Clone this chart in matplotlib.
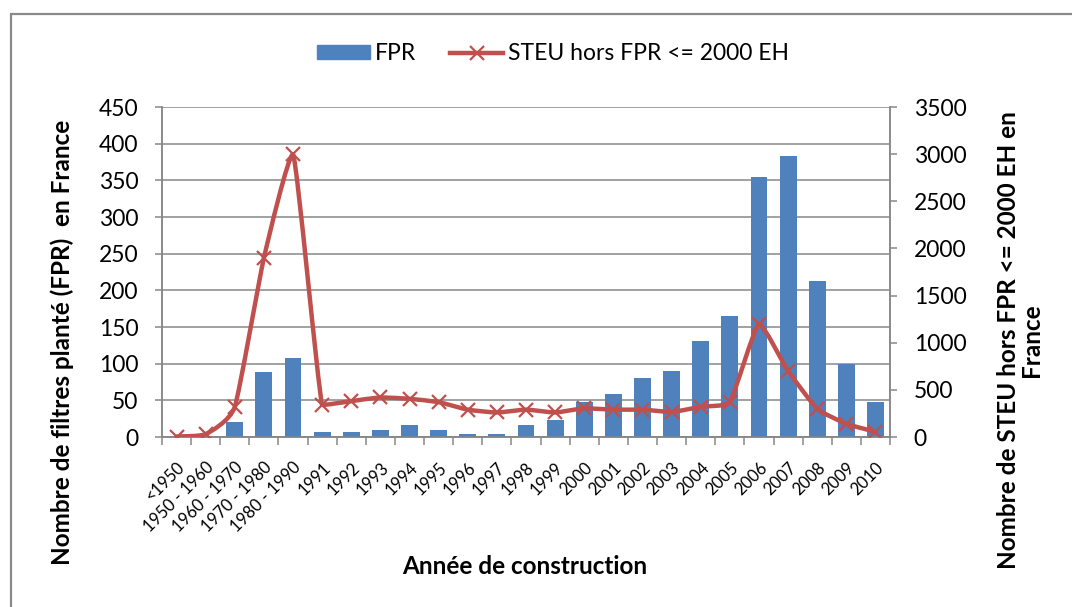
import numpy as np
import matplotlib.pyplot as plt
from matplotlib.path import Path
from matplotlib.patches import PathPatch, Patch, Rectangle
from matplotlib.lines import Line2D

# ------------ DATA ------------

CATEGORIES = ["<1950", "1950 - 1960", "1960 - 1970", "1970 - 1980", "1980 - 1990",
              "1991", "1992", "1993", "1994", "1995", "1996", "1997", "1998", "1999",
              "2000", "2001", "2002", "2003", "2004", "2005", "2006", "2007", "2008",
              "2009", "2010"]

FPR = [0, 0, 21, 89, 108, 7, 7, 10, 17, 10, 4, 4, 16, 23,
       48, 59, 80, 90, 131, 165, 355, 383, 213, 100, 48]

STEU = [5, 30, 320, 1900, 3000, 340, 380, 420, 405, 370, 290, 260, 290, 260,
        305, 290, 290, 265, 320, 370, 1200, 700, 300, 140, 55]

LEFT_TICKS = list(range(0, 451, 50))
RIGHT_TICKS = list(range(0, 3501, 500))

# ------------ STYLE ------------

BAR_COLOR = "#4F81BD"
LINE_COLOR = "#C0504D"
GRID_COLOR = "#878787"
FONT = "Lato"

plt.rcParams["font.family"] = [FONT, "DejaVu Sans"]


def smooth_path(x, y, tension=0.08):
    """Lightly smoothed line: cubic Bezier segments through every point,
    control points kept inside each segment's y range (no overshoot)"""
    pts = np.column_stack([x, y]).astype(float)
    n = len(pts)
    verts = [pts[0]]
    codes = [Path.MOVETO]
    for i in range(n - 1):
        p0 = pts[max(i - 1, 0)]
        p1 = pts[i]
        p2 = pts[i + 1]
        p3 = pts[min(i + 2, n - 1)]
        c1 = p1 + (p2 - p0) * tension
        c2 = p2 - (p3 - p1) * tension
        lo, hi = min(p1[1], p2[1]), max(p1[1], p2[1])
        c1[1] = np.clip(c1[1], lo, hi)
        c2[1] = np.clip(c2[1], lo, hi)
        verts += [c1, c2, p2]
        codes += [Path.CURVE4] * 3
    return Path(verts, codes)


fig = plt.figure(figsize=(10.72, 6.07), dpi=100)
ax = fig.add_axes([162 / 1072, 1 - 437 / 607, 728 / 1072, 330 / 607])
ax2 = ax.twinx()

x = np.arange(len(CATEGORIES))

# bars
ax.bar(x, FPR, width=0.58, color=BAR_COLOR, zorder=3)
ax.set_xlim(-0.5, len(CATEGORIES) - 0.5)
ax.set_ylim(0, 450)
ax.set_yticks(LEFT_TICKS)
ax.yaxis.grid(True, color=GRID_COLOR, linewidth=1.1)
ax.set_axisbelow(True)

# smoothed line on the right axis
ax2.add_patch(PathPatch(smooth_path(x, STEU), fill=False, edgecolor=LINE_COLOR,
                        linewidth=3.2, capstyle="round", joinstyle="round", zorder=4))
ax2.plot(x, STEU, linestyle="none", marker="x", markersize=10, markeredgewidth=1.6,
         color=LINE_COLOR, zorder=5)
ax2.set_ylim(0, 3500)
ax2.set_yticks(RIGHT_TICKS)

# x ticks: marks at category boundaries, labels at centres
ax.set_xticks(np.arange(-0.5, len(CATEGORIES), 1))
ax.set_xticklabels([])
ax.set_xticks(x, minor=True)
ax.set_xticklabels(CATEGORIES, minor=True, rotation=45, ha="right",
                   rotation_mode="anchor", fontsize=12)
ax.tick_params(axis="x", which="major", length=6, color=GRID_COLOR, width=1.1)
ax.tick_params(axis="x", which="minor", length=0, pad=16)

ax.tick_params(axis="y", length=5, color=GRID_COLOR, width=1.1, pad=12, labelsize=16.5)
ax2.tick_params(axis="y", length=5, color=GRID_COLOR, width=1.1, pad=12, labelsize=16.5)

for a in (ax, ax2):
    a.spines["top"].set_visible(False)
    for side in ("left", "right", "bottom"):
        a.spines[side].set_color(GRID_COLOR)
        a.spines[side].set_linewidth(1.1)

# axis titles
fig.text(525 / 1072, 1 - 566 / 607, "Année de construction", ha="center", va="center",
         fontsize=17.5, fontweight="bold")
fig.text(62 / 1072, 1 - 342 / 607, "Nombre de filtres planté (FPR)  en France",
         ha="center", va="center", rotation=90, fontsize=17.5, fontweight="bold")
fig.text(1020 / 1072, 1 - 340 / 607, "Nombre de STEU hors FPR <= 2000 EH en\nFrance",
         ha="center", va="center", rotation=90, fontsize=17.5, fontweight="bold",
         linespacing=1.05)

# legend
handles = [Patch(color=BAR_COLOR, label="FPR"),
           Line2D([], [], color=LINE_COLOR, linewidth=3.2, marker="x", markersize=10,
                  markeredgewidth=1.6, label="STEU hors FPR <= 2000 EH")]
fig.legend(handles=handles, loc="center", bbox_to_anchor=(553 / 1072, 1 - 54 / 607),
           ncol=2, frameon=False, fontsize=16.5, handlelength=2.3, handleheight=0.55,
           handletextpad=0.2, columnspacing=1.5)

# chart border
fig.patches.append(Rectangle((11 / 1072, -0.2), 1.2, 1.2 - 14 / 607, transform=fig.transFigure,
                             fill=False, edgecolor="#898989", linewidth=1.6))

fig.savefig("out.png", dpi=100)
